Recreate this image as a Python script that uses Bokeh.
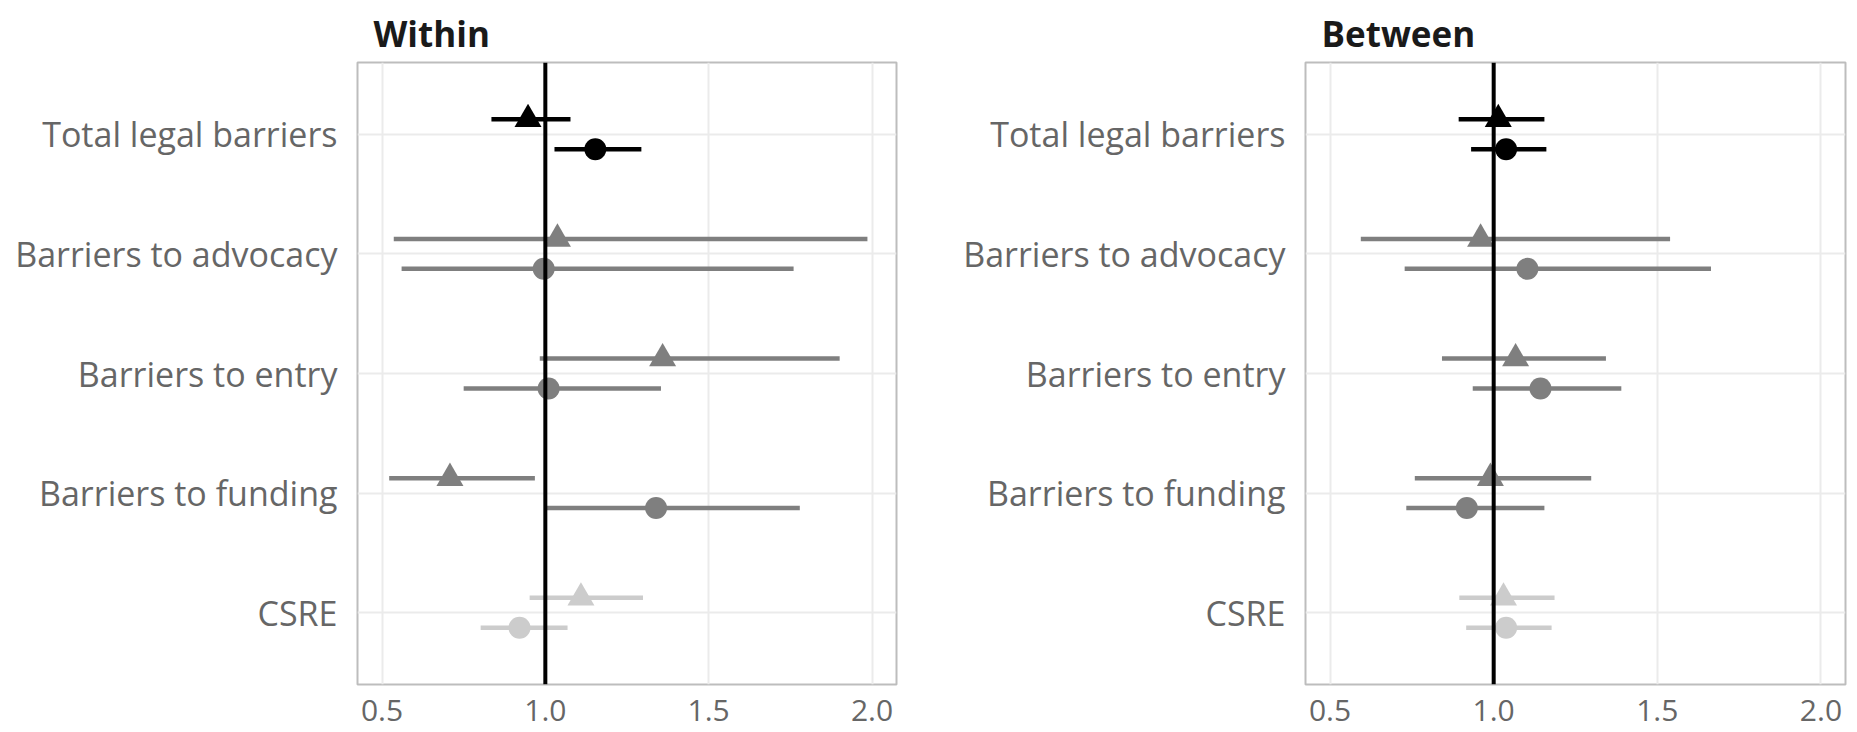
from bokeh.plotting import figure
from bokeh.models import ColumnDataSource, Range1d, FixedTicker, PrintfTickFormatter, Span
from bokeh.layouts import row
from bokeh.transform import dodge
from bokeh.embed import file_html
from bokeh.resources import INLINE

# ---- data ----
categories = ["Total legal barriers", "Barriers to advocacy", "Barriers to entry",
              "Barriers to funding", "CSRE"]
cat_colors = ["#000000", "#7f7f7f", "#7f7f7f", "#7f7f7f", "#cccccc"]

within_tri_est = [0.947, 1.037, 1.359, 0.708, 1.109]
within_tri_lo = [0.835, 0.536, 0.983, 0.522, 0.952]
within_tri_hi = [1.077, 1.986, 1.901, 0.968, 1.299]
within_circ_est = [1.153, 0.995, 1.010, 1.339, 0.921]
within_circ_lo = [1.028, 0.560, 0.750, 1.005, 0.802]
within_circ_hi = [1.294, 1.760, 1.354, 1.779, 1.068]

between_tri_est = [1.014, 0.960, 1.067, 0.990, 1.030]
between_tri_lo = [0.893, 0.594, 0.842, 0.759, 0.895]
between_tri_hi = [1.155, 1.539, 1.343, 1.298, 1.186]
between_circ_est = [1.038, 1.103, 1.143, 0.918, 1.038]
between_circ_lo = [0.931, 0.728, 0.936, 0.733, 0.916]
between_circ_hi = [1.161, 1.664, 1.390, 1.155, 1.177]

x_ticks = [0.5, 1.0, 1.5, 2.0]

FONT = "Open Sans"
n = len(categories)
ypos = [n - i for i in range(n)]


def panel(title, tri_est, tri_lo, tri_hi, circ_est, circ_lo, circ_hi,
          width, left_border, right_border):
    p = figure(width=width, height=732, output_backend="svg", toolbar_location=None,
               x_range=Range1d(0.425, 2.075), y_range=Range1d(0.4, n + 0.6),
               min_border_left=left_border, min_border_right=right_border,
               min_border_top=62, min_border_bottom=48)
    p.outline_line_color = "#bdbdbd"
    p.outline_line_width = 2
    p.background_fill_color = "white"
    p.border_fill_color = "white"

    p.title.text = title
    p.title.align = "left"
    p.title.offset = 16
    p.title.standoff = 11
    p.title.text_font = FONT
    p.title.text_font_size = "35px"
    p.title.text_font_style = "bold"
    p.title.text_color = "#1a1a1a"

    src = ColumnDataSource(dict(y=ypos, color=cat_colors,
                                te=tri_est, tl=tri_lo, th=tri_hi,
                                ce=circ_est, cl=circ_lo, ch=circ_hi))
    yt = dodge("y", 0.125, range=p.y_range)
    yc = dodge("y", -0.125, range=p.y_range)

    p.segment(x0="tl", x1="th", y0=yt, y1=yt, line_color="color", line_width=4.5,
              line_cap="butt", source=src)
    p.segment(x0="cl", x1="ch", y0=yc, y1=yc, line_color="color", line_width=4.5,
              line_cap="butt", source=src)
    p.scatter(x="te", y=yt, marker="triangle", size=27, fill_color="color",
              line_color=None, source=src)
    p.scatter(x="ce", y=yc, marker="circle", size=22, fill_color="color",
              line_color=None, source=src)

    p.add_layout(Span(location=1.0, dimension="height", line_color="black", line_width=4))

    p.xaxis.ticker = FixedTicker(ticks=x_ticks)
    p.xaxis.formatter = PrintfTickFormatter(format="%.1f")
    p.yaxis.ticker = FixedTicker(ticks=ypos)
    p.yaxis.major_label_overrides = {y: c for y, c in zip(ypos, categories)}
    for ax in (p.xaxis, p.yaxis):
        ax.axis_line_color = None
        ax.major_tick_line_color = None
        ax.minor_tick_line_color = None
        ax.major_tick_out = 0
        ax.major_tick_in = 0
        ax.major_label_text_font = FONT
        ax.major_label_text_color = "#666666"
    p.xaxis.major_label_standoff = 15
    p.xaxis.major_label_text_font_size = "30px"
    p.yaxis.major_label_text_font_size = "34px"
    p.yaxis.major_label_standoff = 20

    p.xgrid.ticker = FixedTicker(ticks=x_ticks)
    p.ygrid.ticker = FixedTicker(ticks=ypos)
    for g in (p.xgrid, p.ygrid):
        g.grid_line_color = "#ebebeb"
        g.grid_line_width = 2
        g.minor_grid_line_color = None
    return p


p1 = panel("Within", within_tri_est, within_tri_lo, within_tri_hi,
           within_circ_est, within_circ_lo, within_circ_hi, 900, 357, 4)
p2 = panel("Between", between_tri_est, between_tri_lo, between_tri_hi,
           between_circ_est, between_circ_lo, between_circ_hi, 957, 405, 12)

layout = row(p1, p2)
open("out.html", "w").write(file_html(layout, INLINE))
